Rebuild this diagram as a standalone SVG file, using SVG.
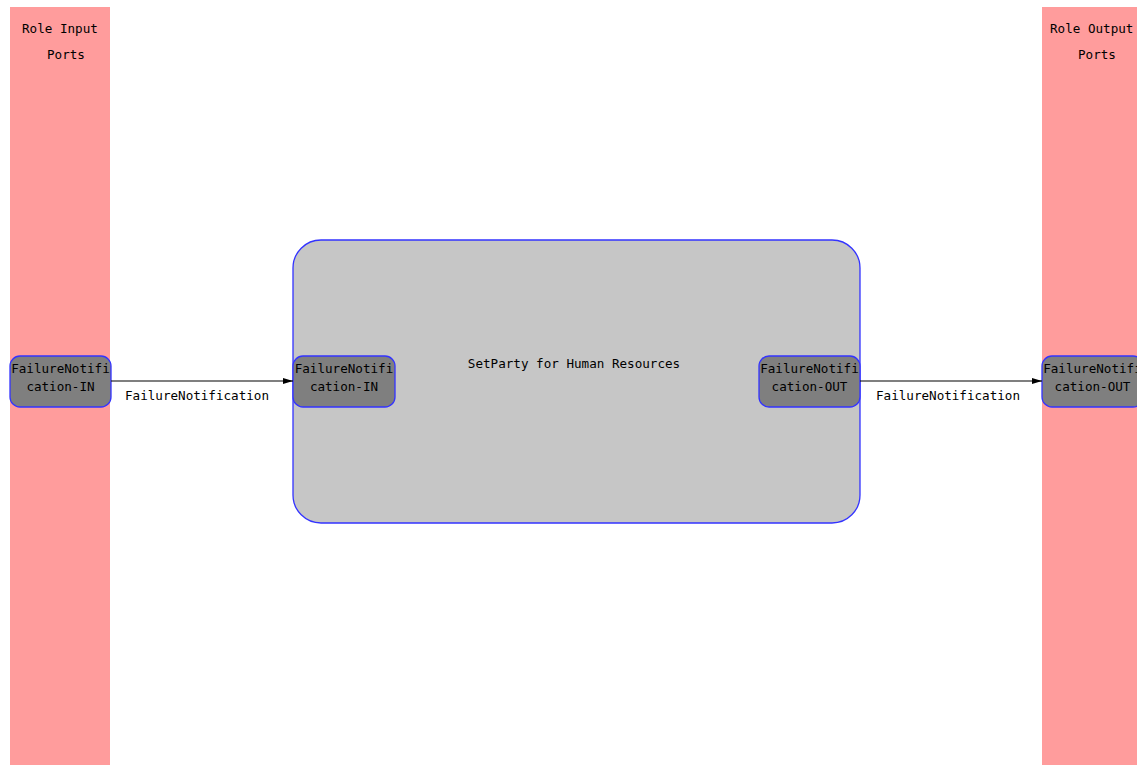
<svg xmlns="http://www.w3.org/2000/svg" width="1137" height="765" viewBox="0 0 1137 765">
<defs>
<style>
.band{fill:#ff9c9c}
.main{fill:#c6c6c6;stroke:#3333ff;stroke-width:1.3}
.port{fill:#7f7f7f;stroke:#3333ff;stroke-width:1.3}
text{font-family:"DejaVu Sans Mono","Liberation Mono",monospace;font-size:12.6px;fill:#000}
.edge{stroke:#000;stroke-width:1.2;fill:none;marker-end:url(#arr)}
</style>
<marker id="arr" viewBox="0 0 10 8" refX="10" refY="4" markerWidth="10" markerHeight="8" markerUnits="userSpaceOnUse" orient="auto">
<path d="M0,1 L10,4 L0,7 z" fill="#000"/>
</marker>
</defs>
<rect width="1137" height="765" fill="#fff"/>
<g id="role-input-ports">
<rect class="band" x="10" y="7" width="100" height="758"/>
<text x="22" y="33">Role Input</text>
<text x="47" y="59">Ports</text>
</g>
<g id="role-output-ports">
<rect class="band" x="1042" y="7" width="100" height="758"/>
<text x="1050" y="33">Role Output</text>
<text x="1078" y="59">Ports</text>
</g>
<g id="setparty">
<rect class="main" x="293" y="240" width="567" height="283" rx="28" ry="28"/>
<text x="574" y="368" text-anchor="middle">SetParty for Human Resources</text>
</g>
<g id="role-in-port">
<rect class="port" x="10" y="356" width="101" height="51" rx="10" ry="10"/>
<text x="60.5" y="373" text-anchor="middle">FailureNotifi</text>
<text x="60.5" y="391" text-anchor="middle">cation-IN</text>
</g>
<g id="node-in-port">
<rect class="port" x="293" y="356" width="102" height="51" rx="10" ry="10"/>
<text x="344" y="373" text-anchor="middle">FailureNotifi</text>
<text x="344" y="391" text-anchor="middle">cation-IN</text>
</g>
<g id="node-out-port">
<rect class="port" x="759" y="356" width="101" height="51" rx="10" ry="10"/>
<text x="809.5" y="373" text-anchor="middle">FailureNotifi</text>
<text x="809.5" y="391" text-anchor="middle">cation-OUT</text>
</g>
<g id="role-out-port">
<rect class="port" x="1042" y="356" width="101" height="51" rx="10" ry="10"/>
<text x="1092.5" y="373" text-anchor="middle">FailureNotifi</text>
<text x="1092.5" y="391" text-anchor="middle">cation-OUT</text>
</g>
<g id="connectors">
<line class="edge" x1="111" y1="381" x2="293" y2="381"/>
<text x="197" y="400" text-anchor="middle">FailureNotification</text>
<line class="edge" x1="860" y1="381" x2="1042" y2="381"/>
<text x="948" y="400" text-anchor="middle">FailureNotification</text>
</g>
</svg>
